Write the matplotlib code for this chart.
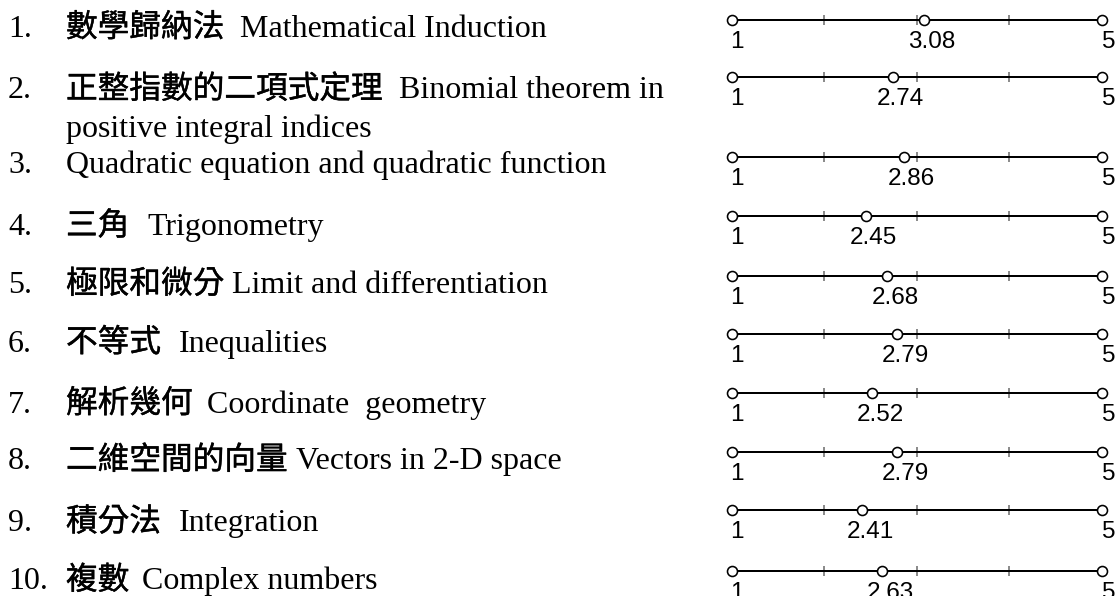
import matplotlib
matplotlib.use("Agg")
import matplotlib.pyplot as plt
import matplotlib.patheffects as pe

# ---- data ----
item_numbers = ["1.", "2.", "3.", "4.", "5.", "6.", "7.", "8.", "9.", "10."]
topics_zh = ["數學歸納法", "正整指數的二項式定理", "", "三角", "極限和微分",
             "不等式", "解析幾何", "二維空間的向量", "積分法", "複數"]
topics_en = [
    "Mathematical Induction",
    "Binomial theorem in\npositive integral indices",
    "Quadratic equation and quadratic function",
    "Trigonometry",
    "Limit and differentiation",
    "Inequalities",
    "Coordinate  geometry",
    "Vectors in 2-D space",
    "Integration",
    "Complex numbers",
]
mean_scores = [3.08, 2.74, 2.86, 2.45, 2.68, 2.79, 2.52, 2.79, 2.41, 2.63]
scale_min, scale_max = 1, 5
scale_ticks = [2, 3, 4]

# ---- layout (pixels) ----
W, H, DPI = 1120, 596, 100
line_y = [20, 77, 157, 216, 276, 334, 393, 452, 510, 571]
text_base = [36.7, 98.3, 173.3, 235, 293.3, 351.7, 412.7, 469.3, 531, 589.3]
en_x = [240, 399, 66, 147, 232, 179, 207, 296, 179, 142]
line_gap = 38.4
num_x, topic_x = 8, 66
scale_left, scale_right = 731.7, 1101.7
px2pt = 72.0 / DPI

fig = plt.figure(figsize=(W / DPI, H / DPI), dpi=DPI)
fig.patch.set_facecolor("white")

serif = ["Liberation Serif", "DejaVu Serif"]
cjk = ["Noto Sans CJK TC", "DejaVu Sans"]

for i, (num, zh, en, val) in enumerate(zip(item_numbers, topics_zh, topics_en,
                                            mean_scores)):
    yb = text_base[i]
    fig.text(num_x / W, 1 - yb / H, num, ha="left", va="baseline",
             fontsize=23, family=serif, color="black")
    if zh:
        fig.text(topic_x / W, 1 - yb / H, zh, ha="left", va="baseline",
                 fontsize=22.8, family=cjk, color="black",
                 path_effects=[pe.withStroke(linewidth=0.3, foreground="black")])
    for j, part in enumerate(en.split("\n")):
        x0 = en_x[i] if j == 0 else topic_x
        fig.text(x0 / W, 1 - (yb + j * line_gap) / H, part, ha="left",
                 va="baseline", fontsize=23, family=serif, color="black")

    ly = line_y[i]
    ax = fig.add_axes([scale_left / W, 1 - (ly + 10) / H,
                       (scale_right - scale_left) / W, 20 / H])
    ax.set_xlim(scale_min, scale_max)
    ax.set_ylim(-1, 1)
    ax.axis("off")
    ax.plot(scale_ticks, [0] * len(scale_ticks), linestyle="none", marker="|",
            markersize=10 * px2pt, markeredgewidth=1.3, color="#808080",
            zorder=1, clip_on=False)
    ax.plot([scale_min, scale_max], [0, 0], color="black", lw=2 * px2pt,
            zorder=2, clip_on=False)
    ax.plot([scale_min, val, scale_max], [0, 0, 0], linestyle="none",
            marker="o", markersize=10 * px2pt, markerfacecolor="white",
            markeredgecolor="black", markeredgewidth=1.6 * px2pt, zorder=3,
            clip_on=False)
    off = -27.7 * px2pt
    for xv, lab, dx, ha in [(scale_min, "1", -2, "left"),
                            (scale_max, "5", 0, "left"),
                            (val, f"{val:.2f}", 8, "center")]:
        ax.annotate(lab, xy=(xv, 0), xytext=(dx * px2pt, off),
                    textcoords="offset points", ha=ha, va="baseline",
                    fontsize=17.5, family="Liberation Sans", color="black",
                    annotation_clip=False)

fig.savefig("out.png", dpi=DPI, facecolor="white")
